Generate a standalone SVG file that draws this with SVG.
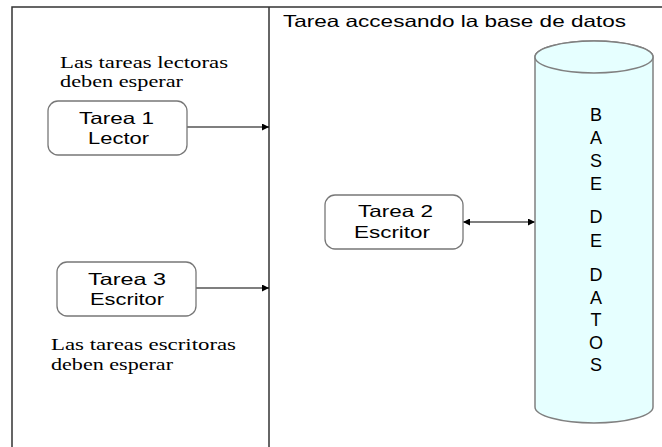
<svg xmlns="http://www.w3.org/2000/svg" width="662" height="447" viewBox="0 0 662 447">
<style>
.frame{fill:none;stroke:#333;stroke-width:1.5}
.box{fill:#fff;stroke:#777;stroke-width:1.3}
.lbl{font-family:"Liberation Sans",Arial,sans-serif;font-size:16.5px;fill:#000}
.note{font-family:"Liberation Serif","Times New Roman",serif;font-size:16px;fill:#000}
.conn{stroke:#000;stroke-width:1.2;fill:none}
.db{fill:#e6ffff;stroke:#808080;stroke-width:1.5}
.dbl{font-family:"Liberation Sans",Arial,sans-serif;font-size:18px;fill:#000;text-anchor:middle}
</style>
<defs>
<marker id="ah" viewBox="0 0 10 10" refX="10" refY="5" markerWidth="8" markerHeight="7" markerUnits="userSpaceOnUse" orient="auto-start-reverse">
<path d="M0,0 L10,5 L0,10 z" fill="#000"/>
</marker>
</defs>
<g id="frame">
<path class="frame" d="M12,447 V7 H662"/>
<line class="frame" x1="269" y1="7" x2="269" y2="447" stroke="#555"/>
<text class="lbl" x="283" y="26.5" font-size="16" textLength="343" lengthAdjust="spacingAndGlyphs">Tarea accesando la base de datos</text>
</g>
<g id="notes">
<text class="note" x="60" y="67.7" textLength="168" lengthAdjust="spacingAndGlyphs">Las tareas lectoras</text>
<text class="note" x="60" y="87" textLength="123" lengthAdjust="spacingAndGlyphs">deben esperar</text>
<text class="note" x="51" y="350" textLength="185" lengthAdjust="spacingAndGlyphs">Las tareas escritoras</text>
<text class="note" x="51" y="369.7" textLength="122" lengthAdjust="spacingAndGlyphs">deben esperar</text>
</g>
<g id="connectors">
<line class="conn" x1="187" y1="127" x2="269" y2="127" marker-end="url(#ah)"/>
<line class="conn" x1="196" y1="288" x2="269" y2="288" marker-end="url(#ah)"/>
<line class="conn" x1="463" y1="222" x2="535" y2="222" marker-start="url(#ah)" marker-end="url(#ah)"/>
</g>
<g id="tarea1">
<rect class="box" x="48" y="101" width="139" height="54" rx="10"/>
<text class="lbl" x="79" y="124" textLength="75" lengthAdjust="spacingAndGlyphs">Tarea 1</text>
<text class="lbl" x="88" y="143.5" textLength="61" lengthAdjust="spacingAndGlyphs">Lector</text>
</g>
<g id="tarea3">
<rect class="box" x="57" y="262" width="139" height="54" rx="10"/>
<text class="lbl" x="88" y="285" textLength="78" lengthAdjust="spacingAndGlyphs">Tarea 3</text>
<text class="lbl" x="90" y="305" textLength="74" lengthAdjust="spacingAndGlyphs">Escritor</text>
</g>
<g id="tarea2">
<rect class="box" x="325" y="195" width="138" height="54" rx="10"/>
<text class="lbl" x="358" y="217" textLength="75" lengthAdjust="spacingAndGlyphs">Tarea 2</text>
<text class="lbl" x="354" y="238" textLength="76" lengthAdjust="spacingAndGlyphs">Escritor</text>
</g>
<g id="basededatos">
<path class="db" d="M535,57 V407 A59,16 0 0 0 653,407 V57 A59,16 0 0 0 535,57 Z"/>
<ellipse class="db" cx="594" cy="57" rx="59" ry="16"/>
<g class="dbl">
<text x="596" y="121">B</text>
<text x="596" y="144">A</text>
<text x="596" y="167">S</text>
<text x="596" y="190">E</text>
<text x="596" y="223">D</text>
<text x="596" y="247">E</text>
<text x="596" y="281">D</text>
<text x="596" y="304">A</text>
<text x="596" y="325.5">T</text>
<text x="596" y="349">O</text>
<text x="596" y="370.5">S</text>
</g>
</g>
</svg>
